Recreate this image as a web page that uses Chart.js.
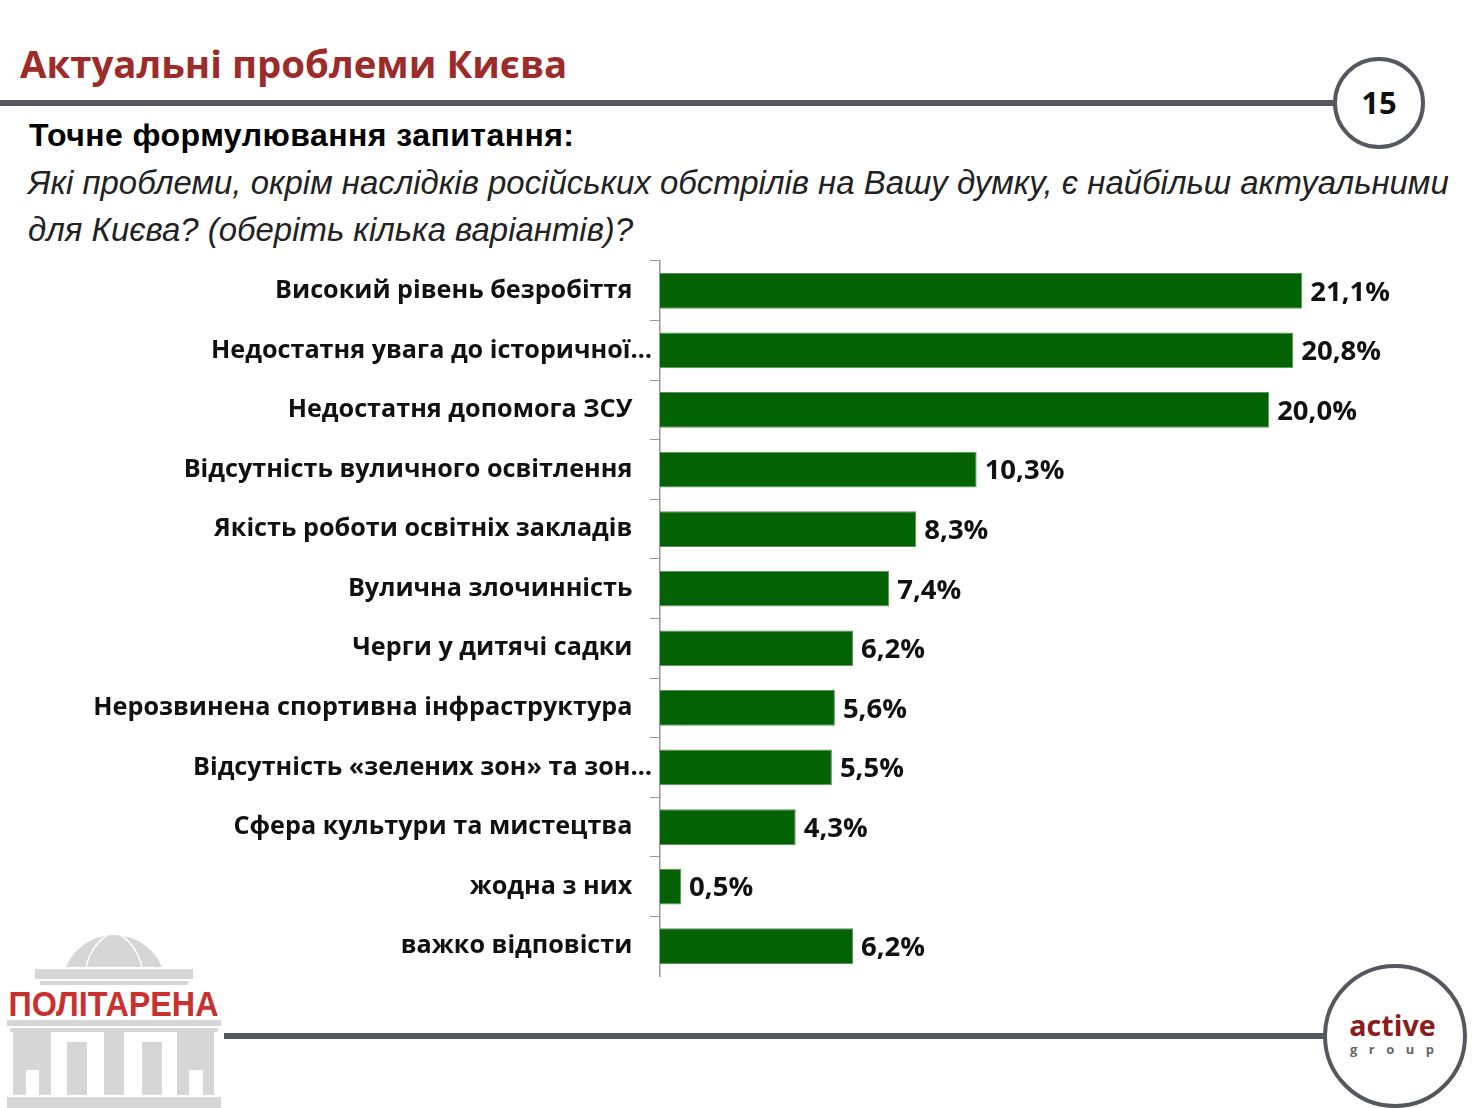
<!DOCTYPE html>
<html lang="uk"><head><meta charset="utf-8">
<script src="https://cdn.jsdelivr.net/npm/chart.js@4/dist/chart.umd.min.js"></script>
<style>
html,body{margin:0;padding:0;background:#fff;width:1480px;height:1108px;overflow:hidden}
.t{position:absolute;white-space:nowrap;margin:0}
#title{left:20px;top:37px;font:700 38.4px/52px "Open Sans";color:#9c2b2a}
#sub{left:29px;top:114px;font:700 32px/42px "Liberation Sans";letter-spacing:.45px;color:#000}
.q{left:28px;font:italic 32.94px/44px "Liberation Sans";color:#222}
#wrap{position:absolute;left:0;top:251px;width:1480px;height:735px}
svg{position:absolute;left:0;top:0}
</style></head><body>
<svg width="1480" height="1108" viewBox="0 0 1480 1108">
 <rect x="0" y="100" width="1336" height="6" fill="#55585e"/>
 <circle cx="1379" cy="103" r="44" fill="#fff" stroke="#55585e" stroke-width="4"/>
 <text x="1379" y="114" text-anchor="middle" font-family="Open Sans" font-weight="700" font-size="31" fill="#111">15</text>
 <rect x="224" y="1033" width="1102" height="6" fill="#55585e"/>
 <circle cx="1395" cy="1036" r="70" fill="#fff" stroke="#55585e" stroke-width="4"/>
 <text x="1392.5" y="1036" text-anchor="middle" font-family="Open Sans" font-weight="700" font-size="28.7" fill="#8a1c1c">active</text>
 <text x="1350" y="1054" text-anchor="start" font-family="Open Sans" font-weight="700" font-size="13" fill="#666" letter-spacing="11.5">group</text>
 <g fill="#d6d6d6">
  <path d="M66 967 A52 52 0 0 1 162 967 Z"/>
  <rect x="35" y="969" width="158" height="10"/><rect x="40" y="981" width="148" height="4"/>
  <rect x="7" y="1020" width="214" height="6"/><rect x="10" y="1028" width="208" height="4"/>
  <path d="M13 1032H51V1095H39V1070H26V1095H13Z"/>
  <rect x="67" y="1042" width="20" height="53"/><rect x="104" y="1032" width="20" height="63"/><rect x="142" y="1042" width="20" height="53"/>
  <path d="M177 1032H214V1095H203V1070H189V1095H177Z"/>
  <rect x="7" y="1097" width="214" height="11"/>
 </g>
 <path d="M86 967 Q92 942 114 931 Q136 942 142 967" fill="none" stroke="#fff" stroke-width="1.5"/>
 <text x="113.5" y="1016" text-anchor="middle" font-family="Liberation Sans" font-weight="700" font-size="35" fill="#c8312f" textLength="210" lengthAdjust="spacingAndGlyphs">ПОЛІТАРЕНА</text>
</svg>
<h1 class="t" id="title">Актуальні проблеми Києва</h1>
<p class="t" id="sub">Точне формулювання запитання:</p>
<p class="t q" style="top:161px">Які проблеми, окрім наслідків російських обстрілів на Вашу думку, є найбільш актуальними</p>
<p class="t q" style="top:208px">для Києва? (оберіть кілька варіантів)?</p>
<div id="wrap"><canvas id="c" width="1480" height="735"></canvas></div>
<script>
const categories = ["Високий рівень безробіття","Недостатня увага до історичної…","Недостатня допомога ЗСУ","Відсутність вуличного освітлення","Якість роботи освітніх закладів","Вулична злочинність","Черги у дитячі садки","Нерозвинена спортивна інфраструктура","Відсутність «зелених зон» та зон…","Сфера культури та мистецтва","жодна з них","важко відповісти"];
const values = [21.1,20.8,20.0,10.3,8.3,7.4,6.2,5.6,5.5,4.3,0.5,6.2];
const valueLabels = ["21,1%","20,8%","20,0%","10,3%","8,3%","7,4%","6,2%","5,6%","5,5%","4,3%","0,5%","6,2%"];
const axisMin = -0.2, axisMax = 25.6;
const barLabels = {id:'barLabels',afterDatasetsDraw(ch){
  const g=ch.ctx; g.save(); g.font='700 27.5px "Open Sans"'; g.fillStyle='#111'; g.textAlign='left'; g.textBaseline='middle';
  ch.getDatasetMeta(0).data.forEach((b,i)=>g.fillText(valueLabels[i],b.x+8,b.y+2));
  g.restore();
}};
new Chart(document.getElementById('c'),{type:'bar',plugins:[barLabels],
 data:{labels:categories,datasets:[{data:values,base:axisMin,backgroundColor:'#036303',borderColor:'#5f8f5f',borderWidth:1,categoryPercentage:1,barPercentage:0.6}]},
 options:{indexAxis:'y',responsive:false,animation:false,events:[],
  layout:{padding:{top:10,bottom:10,left:0,right:42}},
  plugins:{legend:{display:false},tooltip:{enabled:false}},
  scales:{
   x:{min:axisMin,max:axisMax,display:false},
   y:{afterFit(s){s.width=660;s.paddingTop=0;s.paddingBottom=0;},
      border:{color:'#999',width:1.5},
      grid:{drawOnChartArea:false,tickLength:10,tickColor:c=>c.index===undefined?'transparent':'#999',offset:true},
      ticks:{autoSkip:false,padding:-2,color:'#111',font:{family:'Open Sans',weight:'700',size:25.2},
        callback(v){const l=this.getLabelForValue(v);return l.endsWith('…')?l:l+'\u00A0\u00A0\u00A0';}}
   }}}});
</script>
</body></html>
